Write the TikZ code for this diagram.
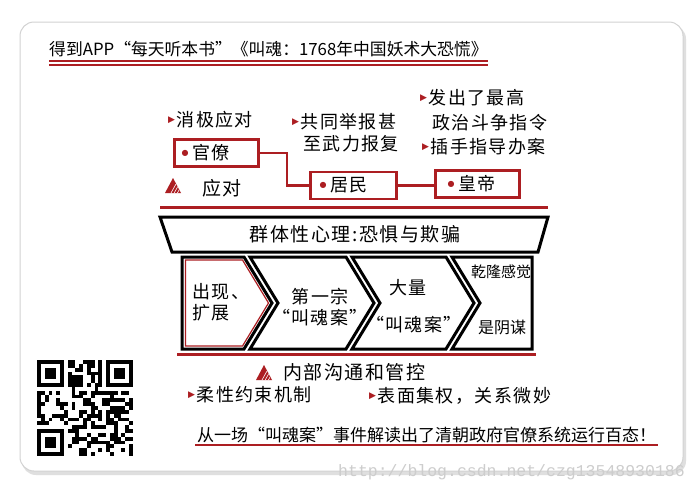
\documentclass[tikz,border=0pt]{standalone}
\usepackage{fontspec}
\usetikzlibrary{calc}
\newfontfamily\cjk{Noto Sans CJK SC}
\newfontfamily\cjks[LetterSpace=8]{Noto Sans CJK SC}
\newfontfamily\dejavu{DejaVu Sans}
\newfontfamily\mono{Liberation Mono}
\definecolor{dred}{RGB}{172,30,34}
\definecolor{urlgray}{RGB}{205,205,205}
\newcommand\mybul{\raisebox{4pt}{\fontsize{9}{9}\dejavu\textcolor{dred}{▶}}\hspace{1.5pt}}
\newcommand\mydot{\raisebox{4.5pt}{\fontsize{8}{8}\dejavu\textcolor{dred}{●}}\hspace{4pt}}
\newcommand\mywarn[1]{%
  \begin{scope}[shift={#1}]
    \fill[dred] (0,15) -- (8,0) -- (16,15) -- cycle;
    \begin{scope}
      \clip (0,15) -- (8,0) -- (16,15) -- cycle;
      \foreach \k in {0,...,2} \draw[white, line width=0.6pt] (6+\k*3.2,15) -- (11+\k*3.2,6);
    \end{scope}
  \end{scope}}
\begin{document}
\begin{tikzpicture}[x=1pt,y=-1pt,
  txt/.style={inner sep=0pt, anchor=west, font=\fontsize{18}{22}\cjks},
  ctxt/.style={inner sep=0pt, font=\fontsize{18}{21}\cjks, align=center},
  redbox/.style={draw=dred, line width=2.5pt, fill=white, minimum height=27pt, align=left, font=\fontsize{18}{22}\cjks, inner ysep=0pt},
  blk/.style={draw=black, line width=3pt, fill=white, line join=miter},
  redrule/.style={draw=dred, line width=3pt},
  conn/.style={draw=dred, line width=2.5pt}]
\useasboundingbox (0,0) rectangle (700,493);
\fill[white] (0,0) rectangle (700,493);
% card
\fill[gray!25, rounded corners=14pt] (22,25) rectangle (686,475);
\filldraw[fill=white, draw=gray!35, line width=1pt, rounded corners=14pt] (20,22) rectangle (683,471);
% title
\node[inner sep=0pt, anchor=west, font=\fontsize{16.8}{18}\cjk] (title) at (49,49) {得到APP“每天听本书”《叫魂：1768年中国妖术大恐慌》};
\draw[dred, line width=2pt] ($(title.south west)+(0,4)$) -- ($(title.south east)+(0,4)$);
\draw[dred, line width=1.2pt] ($(title.south west)+(0,8)$) -- ($(title.south east)+(0,8)$);
% top labels
\node[txt] (t1) at (168,120) {\mybul 消极应对};
\node[txt] (t2a) at (292,122) {\mybul 共同举报甚};
\node[txt] (t2b) at (303,144) {至武力报复};
\node[txt] (t3a) at (420,98) {\mybul 发出了最高};
\node[txt] (t3b) at (432,123) {政治斗争指令};
\node[txt] (t3c) at (422,147) {\mybul 插手指导办案};
% boxes
\node[redbox, text width=70pt, inner xsep=7pt] (guan) at (216.5,153) {\mydot 官僚};
\node[redbox, text width=68pt, inner xsep=9pt] (jumin) at (353.5,185.5) {\mydot 居民};
\node[redbox, text width=60pt, inner xsep=12pt] (huang) at (477.5,184) {\mydot 皇帝};
\draw[conn] (guan.east) -- ++(27,0) |- (jumin.west);
\draw[conn] (jumin.east) -- (jumin.east -| huang.west);
% warn icon + 应对
\mywarn{(165,178)}
\node[txt, font=\fontsize{19}{22}\cjks] (ying) at (202,188) {应对};
% red rule
\coordinate (r1a) at (160,207); \coordinate (r1b) at (548,207);
\draw[redrule] (r1a) -- (r1b);
% trapezoid
\draw[blk] (160,217) -- (548,217) -- (538,252) -- (172,252) -- cycle;
\node[ctxt, font=\fontsize{19}{21}\cjks] (psy) at (355,234) {群体性心理:恐惧与欺骗};
% chevrons
\draw[blk] (182,257) -- (244,257) -- (272,303) -- (244,349) -- (182,349) -- cycle;
\draw[dred, line width=1.2pt, line join=miter] (185.5,260) -- (242.5,260) -- (268.5,303) -- (242.5,346) -- (185.5,346) -- cycle;
\draw[blk] (250,257) -- (346,257) -- (374,303) -- (346,349) -- (250,349) -- (278,303) -- cycle;
\draw[blk] (352,257) -- (446,257) -- (474,303) -- (446,349) -- (352,349) -- (380,303) -- cycle;
\draw[blk] (452,257) -- (532,257) -- (532,349) -- (452,349) -- (480,303) -- cycle;
\node[inner sep=0pt, anchor=west, align=left, font=\fontsize{18}{21}\cjks] (c1) at (192,302.5) {出现、\\扩展};
\node[ctxt] (c2) at (320,307.5) {第一宗\\“叫魂案”};
\node[ctxt] (c3a) at (408,288) {大量};
\node[ctxt] (c3b) at (414,325) {“叫魂案”};
\node[ctxt, font=\fontsize{15}{18}\cjk] (c4a) at (501,272) {乾隆感觉};
\node[ctxt, font=\fontsize{16}{18}\cjk] (c4b) at (502,327) {是阴谋};
% red rule 2
\coordinate (r2a) at (177,354); \coordinate (r2b) at (536,354);
\draw[redrule] (r2a) -- (r2b);
% bottom labels
\mywarn{(256,365)}
\node[txt, font=\fontsize{19}{22}\cjks] (nei) at (283,372) {内部沟通和管控};
\node[txt] (b1) at (188,395) {\mybul 柔性约束机制};
\node[txt] (b2) at (369,396) {\mybul 表面集权，关系微妙};
\node[inner sep=0pt, anchor=west, font=\fontsize{17}{19}\cjk] (sent) at (197,435) {从一场“叫魂案”事件解读出了清朝政府官僚系统运行百态！};
\draw[dred, line width=1.5pt] ($(sent.south west)+(-2,2)$) -- ($(sent.south east)+(2,2)$);
% QR code
\def\qm{3.84}
\begin{scope}[shift={(37,360)}]
  \pgfmathsetseed{4242}
  \foreach \i in {0,...,24}{
    \foreach \j in {0,...,24}{
      \pgfmathsetmacro{\rr}{rnd}
      \pgfmathtruncatemacro{\fz}{or(and(\i<8,\j<8), or(and(\i>16,\j<8), and(\i<8,\j>16)))}
      \ifnum\fz=0 \ifdim\rr pt<0.5pt
        \fill (\i*\qm,\j*\qm) rectangle ++(\qm,\qm);
      \fi\fi
    }}
  \foreach \cx/\cy in {0/0, 18/0, 0/18}{
    \fill (\cx*\qm,\cy*\qm) rectangle ++(7*\qm,7*\qm);
    \fill[white] (\cx*\qm+\qm,\cy*\qm+\qm) rectangle ++(5*\qm,5*\qm);
    \fill (\cx*\qm+2*\qm,\cy*\qm+2*\qm) rectangle ++(3*\qm,3*\qm);
  }
\end{scope}
% url
\node[inner sep=0pt, anchor=west, text=urlgray, font=\fontsize{16.5}{18}\mono] (url) at (338,472) {http://blog.csdn.net/czg13548930186};
\end{tikzpicture}
\end{document}
